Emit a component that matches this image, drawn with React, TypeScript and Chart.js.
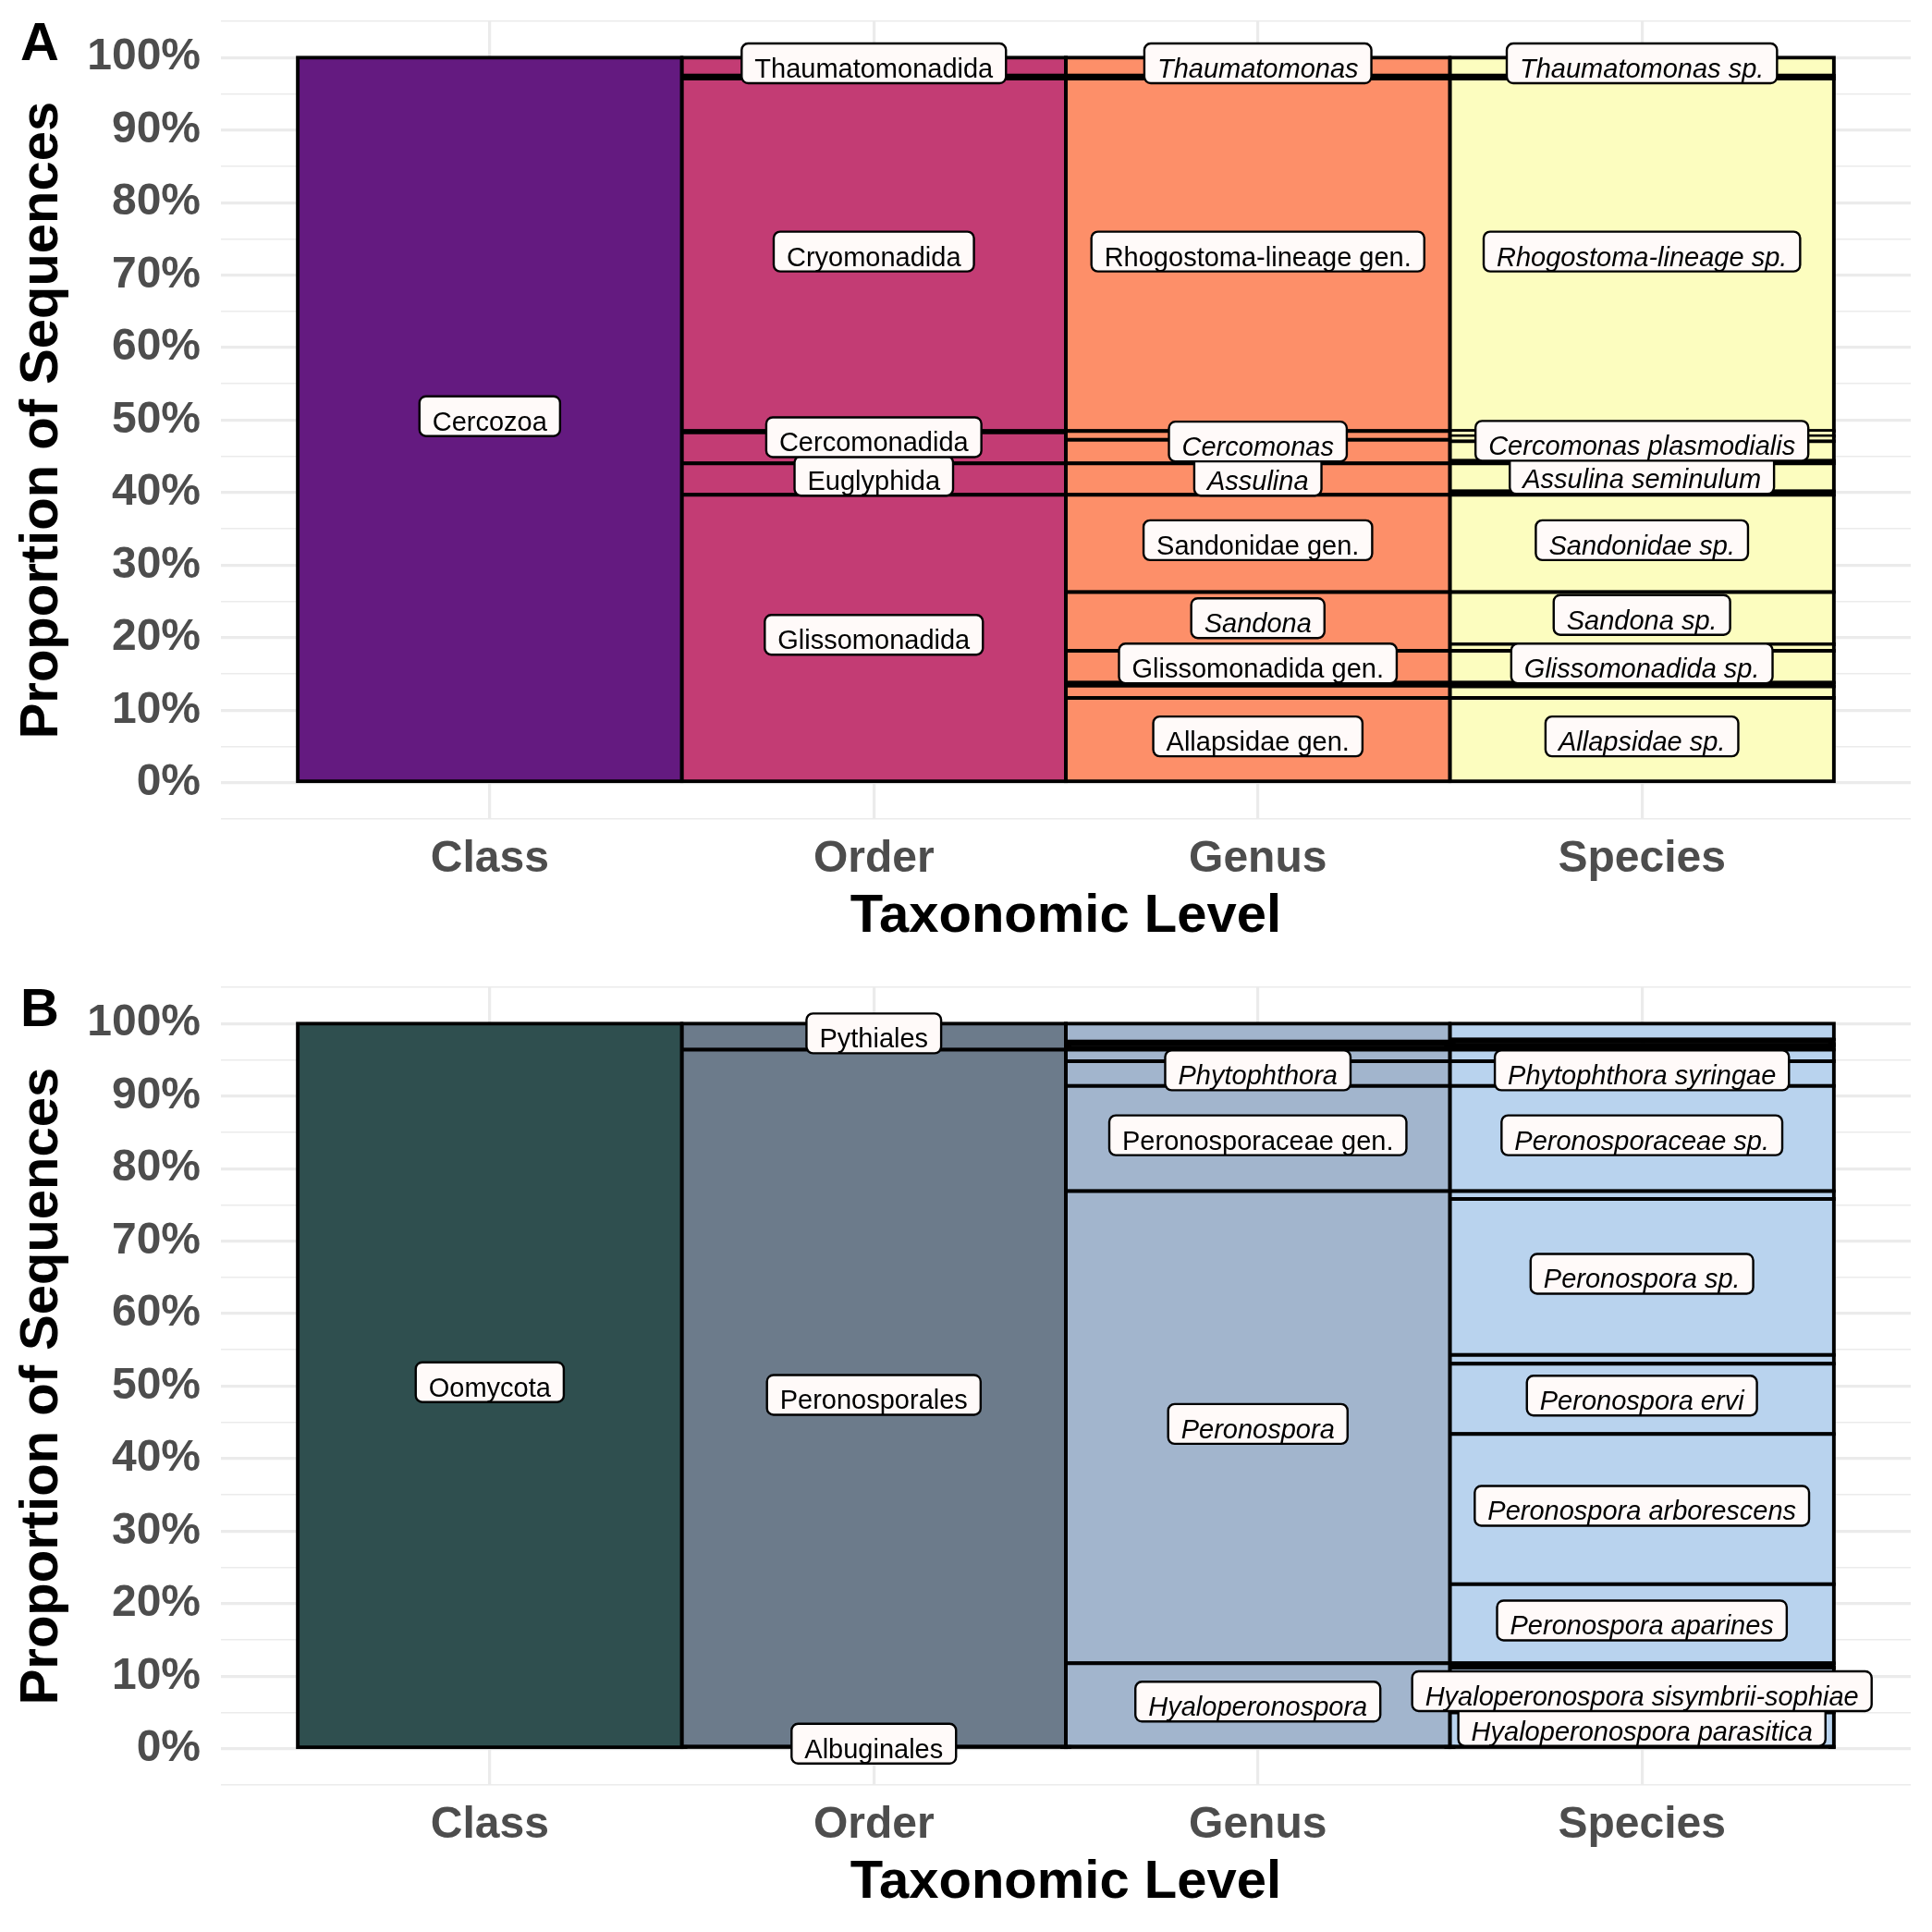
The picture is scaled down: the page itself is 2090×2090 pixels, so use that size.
import React, { useEffect, useRef } from 'react';
import { Chart, registerables } from 'chart.js';

Chart.register(...registerables);

// ---------- shared axis data ----------
const levels = ['Class', 'Order', 'Genus', 'Species'];
const yMajorTicks = [0, 10, 20, 30, 40, 50, 60, 70, 80, 90, 100];

// ---------- Panel A (Cercozoa) : segments listed bottom -> top, values in % ----------
const classNamesA = ['Cercozoa'];
const classValuesA = [100];

const orderNamesA = ['Glissomonadida', 'Euglyphida', 'Cercomonadida', null, 'Cryomonadida', null, 'Thaumatomonadida'];
const orderValuesA = [39.7, 4.35, 4.25, 0.2, 48.6, 0.4, 2.5];

const genusNamesA = ['Allapsidae gen.', null, null, 'Glissomonadida gen.', 'Sandona', 'Sandonidae gen.', 'Assulina', 'Cercomonas', null, 'Rhogostoma-lineage gen.', null, 'Thaumatomonas'];
const genusValuesA = [11.7, 1.7, 0.4, 4.4, 8.1, 13.4, 4.35, 3.25, 1.2, 48.6, 0.4, 2.5];

const speciesNamesA = ['Allapsidae sp.', null, null, 'Glissomonadida sp.', null, 'Sandona sp.', 'Sandonidae sp.', null, 'Assulina seminulum', null, 'Cercomonas plasmodialis', null, null, 'Rhogostoma-lineage sp.', null, 'Thaumatomonas sp.'];
const speciesValuesA = [11.7, 1.6, 0.5, 4.4, 0.9, 7.2, 13.4, 0.5, 3.85, 0.35, 2.7, 0.7, 0.7, 48.6, 0.4, 2.5];

// label positions (in %) for labels that were pushed away from their segment centre
const labelShiftA = { Cercomonadida: 47.2, Cercomonas: 46.6, 'Cercomonas plasmodialis': 46.7 };

const colorsA = ['#641A80', '#C33C74', '#FD8F69', '#FCFDBF'];

// ---------- Panel B (Oomycota) ----------
const classNamesB = ['Oomycota'];
const classValuesB = [100];

const orderNamesB = ['Albuginales', 'Peronosporales', 'Pythiales'];
const orderValuesB = [0.3, 96.1, 3.6];

const genusNamesB = [null, 'Hyaloperonospora', 'Peronospora', 'Peronosporaceae gen.', 'Phytophthora', null, null, null, null];
const genusValuesB = [0.3, 11.5, 65.1, 14.5, 3.4, 1.6, 0.5, 0.6, 2.5];

const speciesNamesB = [null, 'Hyaloperonospora parasitica', 'Hyaloperonospora sisymbrii-sophiae', null, 'Peronospora aparines', 'Peronospora arborescens', 'Peronospora ervi', null, 'Peronospora sp.', null, 'Peronosporaceae sp.', 'Phytophthora syringae', null, null, null, null, null];
const speciesValuesB = [0.3, 4.7, 6.2, 0.6, 10.9, 20.7, 9.7, 1.2, 21.5, 1.1, 14.5, 3.4, 1.6, 0.5, 0.3, 0.6, 2.2];

const labelShiftB = { 'Hyaloperonospora sisymbrii-sophiae': 7.5, 'Hyaloperonospora parasitica': 2.7 };

const colorsB = ['#2F4F4F', '#6C7B8B', '#A2B5CD', '#B9D3EE'];

// ---------- styling ----------
const FONT = '"Liberation Sans", Arial, Helvetica, sans-serif';
const W = 2090;
const H = 1045;
const BORDER = 4;

function isItalic(levelIdx, name) {
  if (levelIdx === 3) return true;
  if (levelIdx === 2) return !/ gen\.$/.test(name);
  return false;
}

function buildDatasets(cols, colors, shifts) {
  const out = [];
  cols.forEach((col, ci) => {
    col.values.forEach((v, k) => {
      const name = col.names[k];
      out.push({
        data: [{ x: ci + 1, y: v }],
        backgroundColor: v < 0.65 ? '#000000' : colors[ci],
        borderColor: '#000000',
        borderWidth: BORDER,
        borderSkipped: false,
        inflateAmount: BORDER / 2,
        barPercentage: 1,
        categoryPercentage: 1,
        segLabel: name,
        segItalic: name ? isItalic(ci, name) : false,
        segLabelAt: name && shifts[name] != null ? shifts[name] : null,
      });
    });
  });
  return out;
}

const segLabelPlugin = {
  id: 'segLabels',
  afterDatasetsDraw(chart) {
    const ctx = chart.ctx;
    const yScale = chart.scales.y;
    chart.data.datasets.forEach((ds, i) => {
      if (!ds.segLabel) return;
      const el = chart.getDatasetMeta(i).data[0];
      if (!el) return;
      const cx = el.x;
      let cy = (el.y + el.base) / 2;
      if (ds.segLabelAt != null) cy = yScale.getPixelForValue(ds.segLabelAt);
      ctx.save();
      ctx.font = `${ds.segItalic ? 'italic ' : ''}29px ${FONT}`;
      const tw = ctx.measureText(ds.segLabel).width;
      const bw = tw + 28;
      const bx = cx - bw / 2;
      const by = cy - 25;
      const bh = 43;
      ctx.beginPath();
      ctx.roundRect(bx, by, bw, bh, 7);
      ctx.fillStyle = '#FFFAF9';
      ctx.fill();
      ctx.lineWidth = 2.4;
      ctx.strokeStyle = '#000000';
      ctx.stroke();
      ctx.fillStyle = '#000000';
      ctx.textAlign = 'center';
      ctx.textBaseline = 'alphabetic';
      ctx.fillText(ds.segLabel, cx, cy + 12);
      ctx.restore();
    });
  },
};

const panelTagPlugin = {
  id: 'panelTag',
  afterDraw(chart, args, opts) {
    const ctx = chart.ctx;
    ctx.save();
    ctx.font = `bold 58px ${FONT}`;
    ctx.fillStyle = '#000000';
    ctx.textAlign = 'left';
    ctx.textBaseline = 'alphabetic';
    ctx.fillText(opts.text || '', 22, 65);
    ctx.restore();
  },
};

function makeConfig(datasets, tag) {
  return {
    type: 'bar',
    data: { datasets },
    plugins: [segLabelPlugin, panelTagPlugin],
    options: {
      animation: false,
      responsive: false,
      devicePixelRatio: 1,
      layout: { padding: { top: 23, right: 23, left: 0, bottom: 0 } },
      plugins: {
        legend: { display: false },
        tooltip: { enabled: false },
        panelTag: { text: tag },
      },
      scales: {
        x: {
          type: 'linear',
          min: 0.3,
          max: 4.7,
          offset: false,
          stacked: true,
          afterBuildTicks: (s) => {
            s.ticks = levels.map((_, i) => ({ value: i + 1 }));
          },
          afterFit: (s) => {
            s.height = 159;
            s.paddingLeft = 0;
            s.paddingRight = 0;
            s.paddingTop = 0;
            s.paddingBottom = 0;
          },
          ticks: {
            autoSkip: false,
            maxRotation: 0,
            padding: 15,
            color: '#4D4D4D',
            font: { family: FONT, size: 48, weight: 'bold' },
            callback: (v) => levels[Math.round(v) - 1] || '',
          },
          grid: { color: '#EBEBEB', lineWidth: 3.2, drawTicks: false, offset: false },
          border: { display: false },
          title: {
            display: true,
            text: 'Taxonomic Level',
            color: '#000000',
            font: { family: FONT, size: 58, weight: 'bold' },
            padding: { top: 0, bottom: 18 },
          },
        },
        y: {
          type: 'linear',
          min: -5,
          max: 105,
          stacked: true,
          afterFit: (s) => {
            s.width = 239;
            s.paddingLeft = 0;
            s.paddingRight = 0;
            s.paddingTop = 0;
            s.paddingBottom = 0;
          },
          ticks: {
            stepSize: 5,
            maxTicksLimit: 40,
            autoSkip: false,
            padding: 22,
            color: '#4D4D4D',
            font: { family: FONT, size: 48, weight: 'bold' },
            callback: (v) => (yMajorTicks.includes(Math.round(v)) && Math.abs(v - Math.round(v)) < 1e-6 ? `${Math.round(v)}%` : ''),
          },
          grid: {
            color: '#EBEBEB',
            drawTicks: false,
            lineWidth: (c) => (c.tick && yMajorTicks.includes(Math.round(c.tick.value)) ? 3.2 : 1.6),
          },
          border: { display: false },
          title: {
            display: true,
            text: 'Proportion of Sequences',
            color: '#000000',
            font: { family: FONT, size: 58, weight: 'bold' },
            padding: { top: 11, bottom: 0 },
          },
        },
      },
    },
  };
}

function Panel({ datasets, tag }) {
  const ref = useRef(null);
  useEffect(() => {
    if (!ref.current) return;
    const chart = new Chart(ref.current, makeConfig(datasets, tag));
    return () => chart.destroy();
  }, []);
  return <canvas ref={ref} width={W} height={H} style={{ display: 'block', width: W, height: H }} />;
}

export default function App() {
  const dsA = buildDatasets(
    [
      { names: classNamesA, values: classValuesA },
      { names: orderNamesA, values: orderValuesA },
      { names: genusNamesA, values: genusValuesA },
      { names: speciesNamesA, values: speciesValuesA },
    ],
    colorsA,
    labelShiftA
  );
  const dsB = buildDatasets(
    [
      { names: classNamesB, values: classValuesB },
      { names: orderNamesB, values: orderValuesB },
      { names: genusNamesB, values: genusValuesB },
      { names: speciesNamesB, values: speciesValuesB },
    ],
    colorsB,
    labelShiftB
  );
  return (
    <div style={{ position: 'absolute', left: 0, top: 0, width: W, height: 2 * H, background: '#FFFFFF' }}>
      <Panel datasets={dsA} tag="A" />
      <Panel datasets={dsB} tag="B" />
    </div>
  );
}
